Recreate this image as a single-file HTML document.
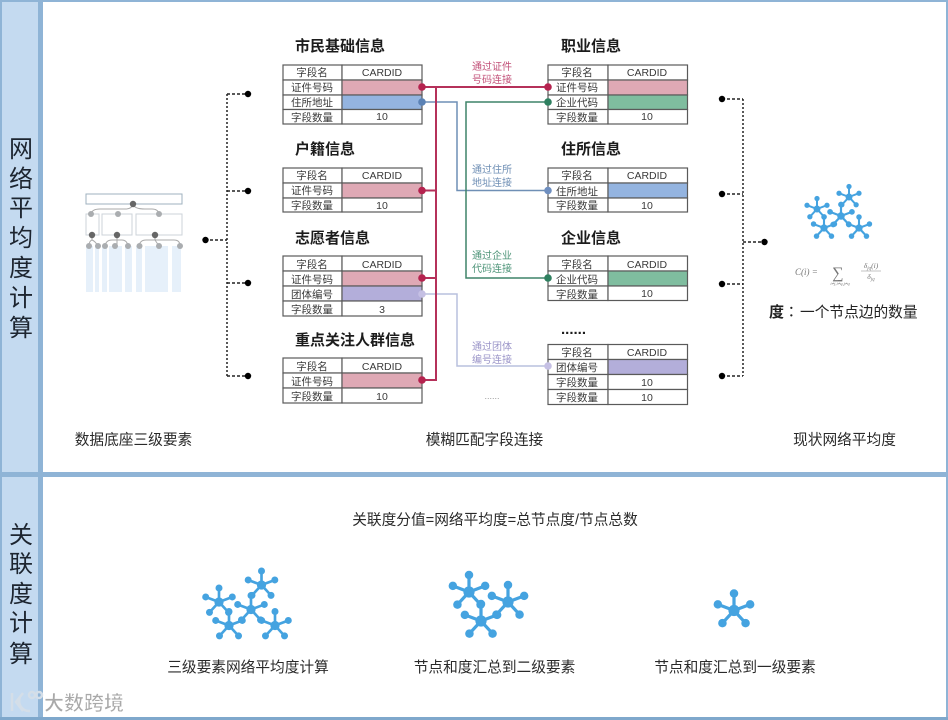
<!DOCTYPE html>
<html lang="zh">
<head>
<meta charset="utf-8">
<title>网络平均度计算</title>
<style>
html,body{margin:0;padding:0;background:#fff;width:948px;height:720px;overflow:hidden}
svg{display:block}
text{font-family:"Liberation Sans","Noto Sans CJK SC",sans-serif}
.c{font-size:10.5px;fill:#3a3a3a;text-anchor:middle}
.t{font-size:15px;font-weight:700;fill:#1c1c1c}
.l{font-size:10px;text-anchor:middle}
.s{font-size:24px;fill:#1d2530;text-anchor:middle}
.b{font-size:14.7px;fill:#2a2a2a;text-anchor:middle}
.g rect{fill:#fff;stroke:#5a5a5a;stroke-width:1.2}
.dv{stroke:#222;stroke-width:1.5;stroke-dasharray:2 2;fill:none}
.dh{stroke:#222;stroke-width:1.5;stroke-dasharray:3 2;fill:none}
.f{font-family:"Liberation Serif",serif;fill:#777}
.star line{stroke:#45a3e0;stroke-width:.19}
.star circle{fill:#45a3e0}
</style>
</head>
<body>
<svg width="948" height="720" viewBox="0 0 948 720" xmlns="http://www.w3.org/2000/svg">
<defs>
<g id="st" class="star">
<line x1="0" y1="0" x2="0" y2="-1"/><line x1="0" y1="0" x2=".95" y2="-.36"/><line x1="0" y1="0" x2=".68" y2=".74"/><line x1="0" y1="0" x2="-.68" y2=".74"/><line x1="0" y1="0" x2="-.95" y2="-.36"/>
<circle r=".33"/><circle cx="0" cy="-1" r=".25"/><circle cx=".95" cy="-.36" r=".25"/><circle cx=".68" cy=".74" r=".25"/><circle cx="-.68" cy=".74" r=".25"/><circle cx="-.95" cy="-.36" r=".25"/>
</g>
</defs>
<rect width="948" height="720" fill="#fff"/>
<!-- frame -->
<rect x="0" y="0" width="40" height="720" fill="#c4daf0"/>
<rect x="38" y="0" width="5" height="720" fill="#8fb4d6"/>
<rect x="0" y="472" width="948" height="5" fill="#8fb4d6"/>
<rect x="1" y="1" width="946" height="717" fill="none" stroke="#8fb4d6" stroke-width="2"/>
<rect x="0" y="717" width="948" height="3" fill="#7fa8cc"/>
<!-- side titles -->
<text class="s" x="21" y="157">网</text><text class="s" x="21" y="187">络</text><text class="s" x="21" y="216">平</text><text class="s" x="21" y="246">均</text><text class="s" x="21" y="276">度</text><text class="s" x="21" y="306">计</text><text class="s" x="21" y="336">算</text>
<text class="s" x="21" y="543">关</text><text class="s" x="21" y="572">联</text><text class="s" x="21" y="602">度</text><text class="s" x="21" y="631">计</text><text class="s" x="21" y="662">算</text>

<!-- hierarchy -->
<g fill="#e6f0fa">
<rect x="86" y="246" width="7" height="46"/><rect x="95" y="246" width="4" height="46"/><rect x="102" y="246" width="5" height="46"/><rect x="109" y="246" width="13" height="46"/><rect x="125" y="246" width="7" height="46"/><rect x="136" y="246" width="6" height="46"/><rect x="145" y="246" width="23" height="46"/><rect x="172" y="246" width="9" height="46"/>
</g>
<rect x="86" y="194" width="96" height="10" fill="#fff" stroke="#9fb2bf" stroke-width="1"/>
<g fill="none" stroke="#ccd3da" stroke-width="1"><rect x="86" y="214" width="13" height="21"/><rect x="102" y="214" width="30" height="21"/><rect x="136" y="214" width="46" height="21"/></g>
<g fill="none" stroke="#aaa" stroke-width="1">
<path d="M91 214Q92 209 100 209H125Q132 209 133 204Q134 209 145 209H152Q158 209 159 214"/>
<path d="M89 246Q89 241 92 240Q95 241 98 246M92 235V240"/>
<path d="M105 246Q106 240 112 240H122Q127 240 128 246M117 235V246"/>
<path d="M139 246Q140 240 146 240H174Q180 240 180 246M155 235V240L159 246"/>
</g>
<g fill="#aaadb0"><circle cx="91" cy="214" r="3"/><circle cx="118" cy="214" r="3"/><circle cx="159" cy="214" r="3"/><circle cx="89" cy="246" r="3"/><circle cx="98" cy="246" r="3"/><circle cx="105" cy="246" r="3"/><circle cx="115" cy="246" r="3"/><circle cx="128" cy="246" r="3"/><circle cx="139.500" cy="246" r="3"/><circle cx="159" cy="246" r="3"/><circle cx="180" cy="246" r="3"/></g>
<g fill="#666"><circle cx="133" cy="204" r="3.200"/><circle cx="92" cy="235" r="3.200"/><circle cx="117" cy="235" r="3.200"/><circle cx="155" cy="235" r="3.200"/></g>

<!-- dotted brackets -->
<path class="dv" d="M227 94V376"/>
<path class="dh" d="M227 94H248M227 191H248M227 283H248M227 376H248M205 240H227"/>
<path class="dv" d="M743 99V376"/>
<path class="dh" d="M722 99H743M722 194H743M722 284H743M722 376H743M743 242H765"/>
<g fill="#000"><circle cx="248" cy="94" r="3.200"/><circle cx="248" cy="191" r="3.200"/><circle cx="248" cy="283" r="3.200"/><circle cx="248" cy="376" r="3.200"/><circle cx="205.500" cy="240" r="3.200"/><circle cx="722" cy="99" r="3.200"/><circle cx="722" cy="194" r="3.200"/><circle cx="722" cy="284" r="3.200"/><circle cx="722" cy="376" r="3.200"/><circle cx="764.500" cy="242" r="3.200"/></g>

<!-- titles -->
<text class="t" x="295" y="51">市民基础信息</text>
<text class="t" x="295" y="154">户籍信息</text>
<text class="t" x="295" y="243">志愿者信息</text>
<text class="t" x="295" y="345">重点关注人群信息</text>
<text class="t" x="561" y="51">职业信息</text>
<text class="t" x="561" y="154">住所信息</text>
<text class="t" x="561" y="243">企业信息</text>
<text class="t" x="561" y="334">......</text>

<!-- left tables -->
<g class="g">
<rect x="283" y="65" width="59" height="15"/><rect x="342" y="65" width="80" height="15"/>
<rect x="283" y="80" width="59" height="15"/><rect x="342" y="80" width="80" height="15" style="fill:#dfa9b5"/>
<rect x="283" y="95" width="59" height="14.500"/><rect x="342" y="95" width="80" height="14.500" style="fill:#94b4e0"/>
<rect x="283" y="109.500" width="59" height="14.500"/><rect x="342" y="109.500" width="80" height="14.500"/>

<rect x="283" y="168" width="59" height="15"/><rect x="342" y="168" width="80" height="15"/>
<rect x="283" y="183" width="59" height="15"/><rect x="342" y="183" width="80" height="15" style="fill:#dfa9b5"/>
<rect x="283" y="198" width="59" height="14"/><rect x="342" y="198" width="80" height="14"/>

<rect x="283" y="256" width="59" height="15"/><rect x="342" y="256" width="80" height="15"/>
<rect x="283" y="271" width="59" height="15"/><rect x="342" y="271" width="80" height="15" style="fill:#dfa9b5"/>
<rect x="283" y="286" width="59" height="15"/><rect x="342" y="286" width="80" height="15" style="fill:#b3aeda"/>
<rect x="283" y="301" width="59" height="15"/><rect x="342" y="301" width="80" height="15"/>

<rect x="283" y="358" width="59" height="15"/><rect x="342" y="358" width="80" height="15"/>
<rect x="283" y="373" width="59" height="15"/><rect x="342" y="373" width="80" height="15" style="fill:#dfa9b5"/>
<rect x="283" y="388" width="59" height="15"/><rect x="342" y="388" width="80" height="15"/>

<!-- right tables -->
<rect x="548" y="65" width="60" height="15"/><rect x="608" y="65" width="79.500" height="15"/>
<rect x="548" y="80" width="60" height="15"/><rect x="608" y="80" width="79.500" height="15" style="fill:#dfa9b5"/>
<rect x="548" y="95" width="60" height="14.500"/><rect x="608" y="95" width="79.500" height="14.500" style="fill:#7fbd9f"/>
<rect x="548" y="109.500" width="60" height="14.500"/><rect x="608" y="109.500" width="79.500" height="14.500"/>

<rect x="548" y="168" width="60" height="15"/><rect x="608" y="168" width="79.500" height="15"/>
<rect x="548" y="183" width="60" height="15"/><rect x="608" y="183" width="79.500" height="15" style="fill:#94b4e0"/>
<rect x="548" y="198" width="60" height="14"/><rect x="608" y="198" width="79.500" height="14"/>

<rect x="548" y="256" width="60" height="15"/><rect x="608" y="256" width="79.500" height="15"/>
<rect x="548" y="271" width="60" height="15"/><rect x="608" y="271" width="79.500" height="15" style="fill:#7fbd9f"/>
<rect x="548" y="286" width="60" height="14.500"/><rect x="608" y="286" width="79.500" height="14.500"/>

<rect x="548" y="344.500" width="60" height="15"/><rect x="608" y="344.500" width="79.500" height="15"/>
<rect x="548" y="359.500" width="60" height="15"/><rect x="608" y="359.500" width="79.500" height="15" style="fill:#b3aeda"/>
<rect x="548" y="374.500" width="60" height="15"/><rect x="608" y="374.500" width="79.500" height="15"/>
<rect x="548" y="389.500" width="60" height="15"/><rect x="608" y="389.500" width="79.500" height="15"/>
</g>

<!-- table text -->
<g class="tx">
<text class="c" x="312" y="76">字段名</text><text class="c" x="382" y="76">CARDID</text>
<text class="c" x="312" y="91">证件号码</text><text class="c" x="312" y="106">住所地址</text>
<text class="c" x="312" y="121">字段数量</text><text class="c" x="382" y="120">10</text>

<text class="c" x="312" y="179">字段名</text><text class="c" x="382" y="179">CARDID</text>
<text class="c" x="312" y="194">证件号码</text><text class="c" x="312" y="209">字段数量</text><text class="c" x="382" y="209">10</text>

<text class="c" x="312" y="268">字段名</text><text class="c" x="382" y="268">CARDID</text>
<text class="c" x="312" y="283">证件号码</text><text class="c" x="312" y="298">团体编号</text>
<text class="c" x="312" y="313">字段数量</text><text class="c" x="382" y="313">3</text>

<text class="c" x="312" y="370">字段名</text><text class="c" x="382" y="370">CARDID</text>
<text class="c" x="312" y="385">证件号码</text><text class="c" x="312" y="400">字段数量</text><text class="c" x="382" y="400">10</text>

<text class="c" x="577" y="76">字段名</text><text class="c" x="647" y="76">CARDID</text>
<text class="c" x="577" y="91">证件号码</text><text class="c" x="577" y="106">企业代码</text>
<text class="c" x="577" y="121">字段数量</text><text class="c" x="647" y="120">10</text>

<text class="c" x="577" y="179">字段名</text><text class="c" x="647" y="179">CARDID</text>
<text class="c" x="577" y="195">住所地址</text><text class="c" x="577" y="209">字段数量</text><text class="c" x="647" y="209">10</text>

<text class="c" x="577" y="268">字段名</text><text class="c" x="647" y="268">CARDID</text>
<text class="c" x="577" y="283">企业代码</text><text class="c" x="577" y="298">字段数量</text><text class="c" x="647" y="297">10</text>

<text class="c" x="577" y="356">字段名</text><text class="c" x="647" y="356">CARDID</text>
<text class="c" x="577" y="371">团体编号</text><text class="c" x="577" y="386">字段数量</text><text class="c" x="647" y="386">10</text>
<text class="c" x="577" y="401">字段数量</text><text class="c" x="647" y="401">10</text>
</g>

<!-- connectors -->
<g fill="none" stroke-width="1.500">
<path stroke="#b9c0de" d="M422 294H457V366H548"/>
<path stroke="#6f8fb5" d="M422 102H457V190.500H548"/>
<path stroke="#3f8468" d="M548 102H466V278H548"/>
<path stroke="#b5315a" stroke-width="2" d="M422 87H548M436 87V380H422M422 190.500H436M422 278H436"/>
</g>
<circle cx="422" cy="87" r="3.800" fill="#b5234f"/><circle cx="548" cy="87" r="3.800" fill="#b5234f"/>
<circle cx="422" cy="190.500" r="3.800" fill="#b5234f"/><circle cx="422" cy="278" r="3.800" fill="#b5234f"/><circle cx="422" cy="380" r="3.800" fill="#b5234f"/>
<circle cx="422" cy="102" r="3.800" fill="#5b82b5"/><circle cx="548" cy="190.500" r="3.800" fill="#6f8fc0"/>
<circle cx="548" cy="102" r="3.800" fill="#2f8060"/><circle cx="548" cy="278" r="3.800" fill="#2f8060"/>
<circle cx="422" cy="294" r="3.800" fill="#c5c0e4"/><circle cx="548" cy="366" r="3.800" fill="#c5c0e4"/>

<!-- connector labels -->
<text class="l" x="492" y="70" fill="#c25078">通过证件</text><text class="l" x="492" y="83" fill="#c25078">号码连接</text>
<text class="l" x="492" y="173" fill="#6f8fb5">通过住所</text><text class="l" x="492" y="186" fill="#6f8fb5">地址连接</text>
<text class="l" x="492" y="259" fill="#4d9478">通过企业</text><text class="l" x="492" y="272" fill="#4d9478">代码连接</text>
<text class="l" x="492" y="350" fill="#9a94c8">通过团体</text><text class="l" x="492" y="363" fill="#9a94c8">编号连接</text>
<text x="492" y="399" font-size="9" fill="#999" text-anchor="middle">......</text>

<!-- top right network -->
<use href="#st" transform="translate(817 209) scale(10.500)"/>
<use href="#st" transform="translate(849 197) scale(10.500)"/>
<use href="#st" transform="translate(841 216) scale(11.500)"/>
<use href="#st" transform="translate(824 228) scale(11)"/>
<use href="#st" transform="translate(859 228) scale(11)"/>

<!-- formula -->
<text class="f" x="795" y="275" font-size="9" font-style="italic">C(i) =</text>
<text class="f" x="838" y="278" font-size="16" text-anchor="middle">∑</text>
<text class="f" x="840" y="285" font-size="4.500" text-anchor="middle" font-style="italic">i≠j,i≠q,j≠q</text>
<text class="f" x="871" y="268" font-size="7.500" text-anchor="middle" font-style="italic">δ<tspan font-size="5" dy="1.500">jq</tspan><tspan dy="-1.500">(i)</tspan></text>
<line x1="861" y1="271" x2="881" y2="271" stroke="#888" stroke-width=".6"/>
<text class="f" x="871" y="279" font-size="7.500" text-anchor="middle" font-style="italic">δ<tspan font-size="5" dy="1.500">jq</tspan></text>

<text x="769" y="317" font-size="15" font-weight="700" fill="#222">度</text>
<text x="784" y="317" font-size="14.700" fill="#222" style="font-family:'Noto Sans CJK TC',sans-serif">：</text>
<text x="800" y="317" font-size="14.700" fill="#222">一个节点边的数量</text>

<!-- bottom labels row 1 -->
<text class="b" x="133.500" y="444.500">数据底座三级要素</text>
<text class="b" x="484.500" y="444.500">模糊匹配字段连接</text>
<text class="b" x="844.500" y="444.500">现状网络平均度</text>

<!-- row 2 -->
<text class="b" x="495" y="524.500">关联度分值=网络平均度=总节点度/节点总数</text>
<use href="#st" transform="translate(219 602) scale(14)"/>
<use href="#st" transform="translate(261.500 585) scale(14)"/>
<use href="#st" transform="translate(251 609.500) scale(14)"/>
<use href="#st" transform="translate(229 625.500) scale(14)"/>
<use href="#st" transform="translate(275 625.500) scale(14)"/>

<use href="#st" transform="translate(469 592) scale(17)"/>
<use href="#st" transform="translate(508 602) scale(17)"/>
<use href="#st" transform="translate(481 621) scale(17)"/>

<use href="#st" transform="translate(734 610.500) scale(17)"/>

<text class="b" x="248" y="672">三级要素网络平均度计算</text>
<text class="b" x="494.500" y="672">节点和度汇总到二级要素</text>
<text class="b" x="735" y="672">节点和度汇总到一级要素</text>

<!-- watermark -->
<g fill="none" stroke="#d4dee8" stroke-width="2.500">
<path d="M12 693V711"/><path d="M23 693L16 702L23 711"/><path d="M20 697A10 10 0 0 0 30 711"/><circle cx="32" cy="695" r="3"/><circle cx="39" cy="695" r="3"/>
</g>
<text x="44" y="710" font-size="20" font-weight="700" fill="#a9a9a9" stroke="#fff" stroke-width=".7" textLength="80">大数跨境</text>
</svg>
</body>
</html>
